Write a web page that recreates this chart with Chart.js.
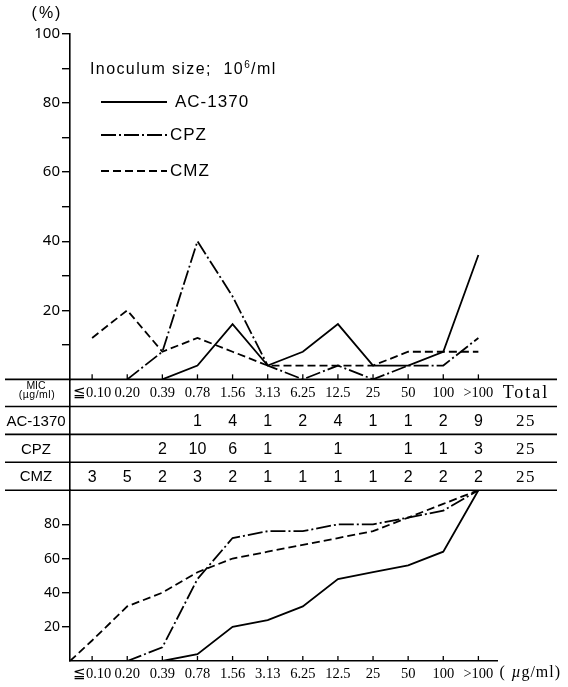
<!DOCTYPE html>
<html>
<head>
<meta charset="utf-8">
<script src="https://cdn.jsdelivr.net/npm/chart.js@4.4.1/dist/chart.umd.min.js"></script>
<style>
body{margin:0;background:#fff;}
canvas{display:block;}
</style>
</head>
<body>
<canvas id="chart" width="568" height="687"></canvas>
<script>

// MIC classes (µg/ml)
const micLabels = ['≦0.10','0.20','0.39','0.78','1.56','3.13','6.25','12.5','25','50','100','>100'];
const drugNames = ['AC-1370','CPZ','CMZ'];

// number of strains per MIC class
const countAC  = [null,null,null,1,4,1,2,4,1,1,2,9];
const countCPZ = [null,null,2,10,6,1,null,1,null,1,1,3];
const countCMZ = [3,5,2,3,2,1,1,1,1,2,2,2];

// distribution (%)
const pctAC  = [null,null,0,4,16,4,8,16,4,4,8,36];
const pctCPZ = [null,0,8,40,24,4,0,4,0,4,4,12];
const pctCMZ = [12,20,8,12,8,4,4,4,4,8,8,8];

// cumulative (%)
const cumAC  = [null,null,0,4,20,24,32,48,52,56,64,100];
const cumCPZ = [null,0,8,48,72,76,76,80,80,84,88,100];
const cumCMZ = [12,32,40,52,60,64,68,72,76,84,92,100];

const pctTicks = [10,20,30,40,50,60,70,80,90,100];
const cumTicks = [20,40,60,80];

const X_MIN = -0.63, X_MAX = 11.53;

const dashes = {'AC-1370': [], 'CPZ': [15,3,2,3], 'CMZ': [8,4]};

function points(arr){
  return arr.map((v,i)=>({x:i,y:v})).filter(p=>p.y!==null);
}

function line(label, data, axis){
  return {
    label: label,
    data: data,
    yAxisID: axis,
    borderColor:'#000',
    borderWidth:1.8,
    borderDash:dashes[label],
    pointRadius:0,
    fill:false,
    tension:0
  };
}

const cmzCum = [{x:X_MIN,y:0}].concat(points(cumCMZ));

const datasets = [
  line('AC-1370', points(pctAC), 'y'),
  line('CPZ', points(pctCPZ), 'y'),
  line('CMZ', points(pctCMZ), 'y'),
  line('AC-1370', points(cumAC), 'yc'),
  line('CPZ', points(cumCPZ), 'yc'),
  line('CMZ', cmzCum, 'yc')
];

const AXIS_W = 70;

// table between the two panels, inward ticks, legend and extra labels
const tablePlugin = {
  id:'micTable',
  afterDraw(chart){
    const ctx = chart.ctx;
    const {x, y, yc} = chart.scales;
    const W = chart.width;
    const top = y.getPixelForValue(0);
    const bottom = yc.getPixelForValue(100);
    const headH = (bottom-top)*0.245;
    const rowH = (bottom-top-headH)/3;
    const left = 5, right = W-11;
    const totalX = (chart.chartArea.right+right)/2 - 2;

    ctx.save();
    ctx.strokeStyle = '#000';
    ctx.fillStyle = '#000';
    ctx.lineWidth = 1.6;

    // horizontal rules
    const rules = [top, top+headH, top+headH+rowH, top+headH+2*rowH, bottom];
    rules.forEach(r=>{
      ctx.beginPath();
      ctx.moveTo(left, r);
      ctx.lineTo(right, r);
      ctx.stroke();
    });

    // inward ticks on both zero lines
    ctx.lineWidth = 1.3;
    [y.getPixelForValue(0), yc.getPixelForValue(0)].forEach(y0=>{
      micLabels.forEach((_,i)=>{
        const px = x.getPixelForValue(i);
        ctx.beginPath();
        ctx.moveTo(px, y0);
        ctx.lineTo(px, y0-5);
        ctx.stroke();
      });
    });

    ctx.textAlign = 'center';
    ctx.textBaseline = 'middle';

    // header row
    ctx.font = '10.5px "Liberation Sans"';
    ctx.fillText('MIC', 36, top+6.5);
    ctx.letterSpacing = '0.5px';
    ctx.fillText('(µg/ml)', 37, top+15.5);
    ctx.letterSpacing = '0px';
    ctx.font = '14.5px "Liberation Serif"';
    const headY = top+headH/2;
    micLabels.forEach((m,i)=>ctx.fillText(m, x.getPixelForValue(i), headY));
    ctx.font = '18px "Liberation Serif"';
    ctx.letterSpacing = '2px';
    ctx.fillText('Total', totalX+1, headY);
    ctx.letterSpacing = '0px';

    // count rows
    const counts = [countAC, countCPZ, countCMZ];
    counts.forEach((row,r)=>{
      const cy = top+headH+rowH*(r+0.5)+1;
      ctx.font = '15px "Liberation Sans"';
      ctx.fillText(drugNames[r], 36, cy);
      ctx.font = '16px "Liberation Sans"';
      row.forEach((v,i)=>{
        if(v!==null) ctx.fillText(String(v), x.getPixelForValue(i), cy);
      });
      const total = row.reduce((a,b)=>a+(b||0),0);
      ctx.font = '17px "Liberation Serif"';
      ctx.letterSpacing = '1.5px';
      ctx.fillText(String(total), totalX+1, cy);
      ctx.letterSpacing = '0px';
    });

    // axis caption of the upper panel
    ctx.font = '16px "Liberation Sans"';
    ctx.letterSpacing = '2px';
    ctx.fillText('(%)', 47, 14);
    ctx.letterSpacing = '0px';

    // unit after the last MIC class
    const ux = x.getPixelForValue(micLabels.length-1)+21;
    const uy = x.top+x.options.ticks.padding+8;
    ctx.textAlign = 'left';
    ctx.font = '16px "Liberation Serif"';
    ctx.fillText('(', ux, uy);
    ctx.font = 'italic 16px "Liberation Serif"';
    ctx.fillText('µ', ux+12, uy);
    ctx.font = '16px "Liberation Serif"';
    ctx.letterSpacing = '1px';
    ctx.fillText('g/ml)', ux+22, uy);
    ctx.letterSpacing = '0px';

    // legend
    ctx.font = '16px "Liberation Sans"';
    ctx.letterSpacing = '1.4px';
    let tx = 90;
    const head = 'Inoculum size;  10';
    ctx.fillText(head, tx, 70);
    tx += ctx.measureText(head).width;
    ctx.font = '10px "Liberation Sans"';
    ctx.fillText('6', tx, 65);
    tx += ctx.measureText('6').width;
    ctx.font = '16px "Liberation Sans"';
    ctx.fillText('/ml', tx, 70);

    const legY = [102, 135, 171];
    const legX = [175, 170, 170];
    ctx.font = '17px "Liberation Sans"';
    ctx.letterSpacing = '1px';
    for(let k=0;k<3;k++){
      const ds = chart.data.datasets[k];
      ctx.lineWidth = ds.borderWidth;
      ctx.setLineDash(ds.borderDash);
      ctx.beginPath();
      ctx.moveTo(101, legY[k]);
      ctx.lineTo(167, legY[k]);
      ctx.stroke();
      ctx.setLineDash([]);
      ctx.fillText(ds.label, legX[k], legY[k]);
    }
    ctx.restore();
  }
};

const ctx = document.getElementById('chart').getContext('2d');

const chart = new Chart(ctx,{
  type:'line',
  data:{datasets:datasets},
  options:{
    responsive:false,
    animation:false,
    devicePixelRatio:1,
    layout:{padding:{top:34,right:71,left:0,bottom:0}},
    plugins:{legend:{display:false},tooltip:{enabled:false}},
    scales:{
      x:{
        type:'linear',
        position:'bottom',
        min:X_MIN,
        max:X_MAX,
        afterBuildTicks:s=>{ s.ticks = micLabels.map((_,i)=>({value:i})); },
        afterFit:s=>{ s.height = 26; },
        grid:{display:false,drawTicks:false},
        border:{display:true,color:'#000',width:1.6},
        ticks:{
          autoSkip:false,maxRotation:0,padding:4,color:'#000',
          font:{family:'Liberation Serif',size:14.5},
          callback:v=>micLabels[v]
        }
      },
      y:{
        type:'linear',
        position:'left',
        stack:'v',
        stackWeight:345.2,
        weight:3,
        min:0,
        max:100,
        afterBuildTicks:s=>{ s.ticks = pctTicks.map(v=>({value:v})); },
        afterFit:s=>{ s.width = AXIS_W; },
        grid:{drawOnChartArea:false,tickLength:8,color:'#000',lineWidth:1.4},
        border:{display:true,color:'#000',width:1.6},
        ticks:{
          autoSkip:false,padding:2,color:'#000',
          font:{family:'Noto Sans',size:15},
          callback:v=>(v%20===0 ? v : '')
        }
      },
      tbl:{
        type:'linear',
        position:'left',
        stack:'v',
        stackWeight:110.8,
        weight:2,
        min:0,
        max:1,
        afterFit:s=>{ s.width = AXIS_W; },
        grid:{display:false},
        border:{display:true,color:'#000',width:1.6},
        ticks:{display:false}
      },
      yc:{
        type:'linear',
        position:'left',
        stack:'v',
        stackWeight:170.7,
        weight:1,
        min:0,
        max:100,
        afterBuildTicks:s=>{ s.ticks = cumTicks.map(v=>({value:v})); },
        afterFit:s=>{ s.width = AXIS_W; },
        grid:{drawOnChartArea:false,tickLength:8,color:'#000',lineWidth:1.4},
        border:{display:true,color:'#000',width:1.6},
        ticks:{
          autoSkip:false,padding:2,color:'#000',
          font:{family:'Noto Sans',size:14}
        }
      }
    }
  },
  plugins:[tablePlugin]
});

</script>
</body>
</html>
